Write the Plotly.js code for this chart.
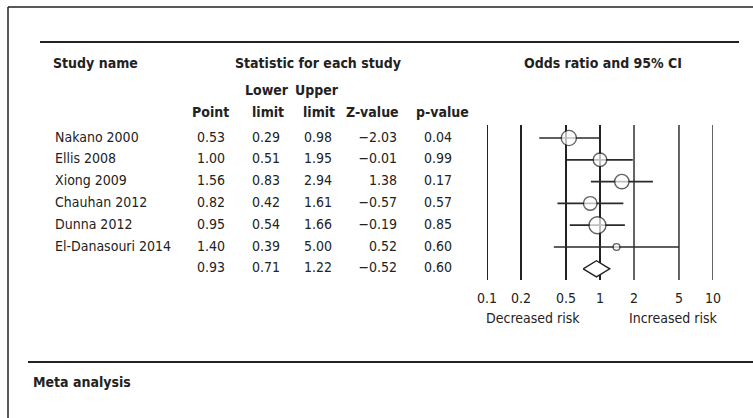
<!DOCTYPE html>
<html>
<head>
<meta charset="utf-8">
<script src="https://cdn.plot.ly/plotly-3.0.1.min.js"></script>
<style>
html,body{margin:0;padding:0;background:#fff;}
#chart{width:753px;height:418px;}
#chart text{font-stretch:condensed !important;}
</style>
</head>
<body>
<div id="chart"></div>
<script>
// ---------- data ----------
const studies = ["Nakano 2000", "Ellis 2008", "Xiong 2009", "Chauhan 2012", "Dunna 2012", "El-Danasouri 2014"];
const pointEst = [0.53, 1.00, 1.56, 0.82, 0.95, 1.40];
const lowerLim = [0.29, 0.51, 0.83, 0.42, 0.54, 0.39];
const upperLim = [0.98, 1.95, 2.94, 1.61, 1.66, 5.00];
const zValues  = [-2.03, -0.01, 1.38, -0.57, -0.19, 0.52];
const pValues  = [0.04, 0.99, 0.17, 0.57, 0.85, 0.60];
const relWeight = [20, 16, 18, 16, 25, 4];   // relative study weights (marker area)
const summaryPoint = 0.93, summaryLower = 0.71, summaryUpper = 1.22, summaryZ = -0.52, summaryP = 0.60;
const tickVals = [0.1, 0.2, 0.5, 1, 2, 5, 10];
const tickLabels = ["0.1", "0.2", "0.5", "1", "2", "5", "10"];

// ---------- layout constants ----------
const W = 753, H = 418;
const FONT = "Liberation Sans Narrow, DejaVu Sans Condensed, DejaVu Sans, sans-serif";
const FS = 14;
const INK = "#222";
const rowTop = 138, rowStep = 21.8;           // pixel of first row, pixel per row
const yTopVal = -rowTop / rowStep;
const yRange = [yTopVal + H / rowStep, yTopVal];
const col = {name: 55, point: 211, lower: 266, upper: 318, zRight: 397, p: 438};
const forestX0 = 487, forestX1 = 713;
const lineTopRow = (125 - rowTop) / rowStep, lineBotRow = (280 - rowTop) / rowStep;

const fmt = v => v.toFixed(2).replace('-', '\u2212');
const nRows = studies.length;
const rowsY = studies.map((_, i) => i);
const sumRow = nRows;

const traces = [];
const txt = (x, y, text, pos) => ({
  type: 'scatter', mode: 'text', xaxis: 'x2', yaxis: 'y',
  x: x, y: y, text: text, textposition: pos,
  textfont: {family: FONT, size: FS, color: INK},
  hoverinfo: 'skip', showlegend: false, cliponaxis: false
});
const colX = c => rowsY.map(() => c).concat([c]);
const allY = rowsY.concat([sumRow]);

// table columns
traces.push(txt(studies.map(() => col.name), rowsY, studies, 'middle right'));
traces.push(txt(colX(col.point), allY, pointEst.concat([summaryPoint]).map(fmt), 'middle center'));
traces.push(txt(colX(col.lower), allY, lowerLim.concat([summaryLower]).map(fmt), 'middle center'));
traces.push(txt(colX(col.upper), allY, upperLim.concat([summaryUpper]).map(fmt), 'middle center'));
traces.push(txt(colX(col.zRight), allY, zValues.concat([summaryZ]).map(fmt), 'middle left'));
traces.push(txt(colX(col.p), allY, pValues.concat([summaryP]).map(fmt), 'middle center'));

// vertical reference lines at each tick
tickVals.forEach(t => {
  const strong = t <= 1;
  traces.push({type: 'scatter', mode: 'lines', xaxis: 'x', yaxis: 'y',
    x: [t, t], y: [lineTopRow, lineBotRow],
    line: {color: strong ? '#222' : '#4a4a4a', width: strong ? 2 : 1.7},
    hoverinfo: 'skip', showlegend: false});
});

// confidence interval lines
const ciX = [], ciY = [];
studies.forEach((_, i) => { ciX.push(lowerLim[i], upperLim[i], null); ciY.push(i, i, null); });
traces.push({type: 'scatter', mode: 'lines', xaxis: 'x', yaxis: 'y', x: ciX, y: ciY,
  line: {color: '#2a2a2a', width: 1.7}, hoverinfo: 'skip', showlegend: false});

// point estimates
traces.push({type: 'scatter', mode: 'markers', xaxis: 'x', yaxis: 'y',
  x: pointEst, y: rowsY,
  marker: {symbol: 'circle', color: '#fff', size: relWeight.map(w => 3.4 * Math.sqrt(w)), line: {color: '#222', width: 1.4}},
  hoverinfo: 'skip', showlegend: false, cliponaxis: false});

// summary diamond
const dh = 0.37;
traces.push({type: 'scatter', mode: 'lines', xaxis: 'x', yaxis: 'y', fill: 'toself', fillcolor: '#fff',
  x: [summaryLower, summaryPoint, summaryUpper, summaryPoint, summaryLower],
  y: [sumRow, sumRow - dh, sumRow, sumRow + dh, sumRow],
  line: {color: '#222', width: 1.4}, hoverinfo: 'skip', showlegend: false});

const px = x => x / W, py = y => 1 - y / H;
const ann = (x, y, text, bold, xanchor) => ({
  xref: 'paper', yref: 'paper', x: px(x), y: py(y), text: bold ? '<b>' + text + '</b>' : text,
  showarrow: false, xanchor: xanchor || 'center', yanchor: 'middle',
  font: {family: FONT, size: FS, color: INK}
});

const layout = {
  width: W, height: H, margin: {l: 0, r: 0, t: 0, b: 0},
  paper_bgcolor: '#fff', plot_bgcolor: 'rgba(0,0,0,0)', showlegend: false,
  xaxis: {type: 'log', domain: [forestX0 / W, forestX1 / W], range: [-1, 1],
    anchor: 'free', position: py(288),
    showgrid: false, zeroline: false, showline: false, ticks: '',
    tickmode: 'array', tickvals: tickVals, ticktext: tickLabels,
    tickfont: {family: FONT, size: FS, color: INK}, fixedrange: true},
  xaxis2: {domain: [0, 1], range: [0, W], anchor: 'y', visible: false, fixedrange: true},
  yaxis: {domain: [0, 1], range: yRange, visible: false, fixedrange: true},
  shapes: [
    {type: 'line', xref: 'paper', yref: 'paper', x0: px(8), x1: px(760), y0: py(7), y1: py(7), line: {color: '#222', width: 1.5}},
    {type: 'line', xref: 'paper', yref: 'paper', x0: px(8), x1: px(8), y0: py(7), y1: py(425), line: {color: '#222', width: 1.5}},
    {type: 'line', xref: 'paper', yref: 'paper', x0: px(40), x1: px(739), y0: py(42), y1: py(42), line: {color: '#222', width: 2}},
    {type: 'line', xref: 'paper', yref: 'paper', x0: px(28), x1: px(760), y0: py(362), y1: py(362), line: {color: '#222', width: 2}}
  ],
  annotations: [
    ann(51, 63, 'Study name', true, 'left'),
    ann(318, 63, 'Statistic for each study', true),
    ann(603, 63, 'Odds ratio and 95% CI', true),
    ann(267, 90, 'Lower', true), ann(317, 90, 'Upper', true),
    ann(211, 112, 'Point', true), ann(268, 112, 'limit', true), ann(319, 112, 'limit', true),
    ann(372, 112, 'Z-value', true), ann(442, 112, 'p-value', true),
    ann(533, 318, 'Decreased risk', false), ann(673, 318, 'Increased risk', false),
    ann(31, 382, 'Meta analysis', true, 'left')
  ]
};

Plotly.newPlot('chart', traces, layout, {staticPlot: true, displayModeBar: false});
</script>
</body>
</html>
